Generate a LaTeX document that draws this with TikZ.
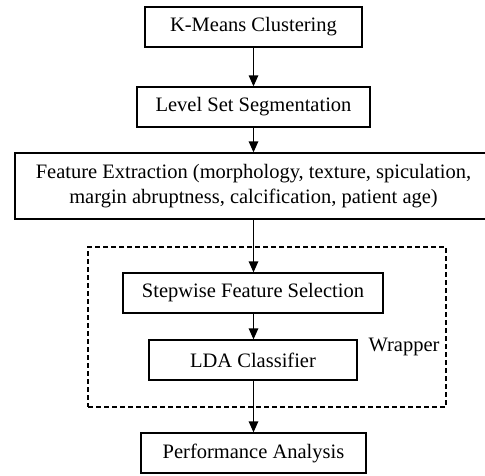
\documentclass[tikz,border=0pt]{standalone}
\usepackage{fontspec}
\setmainfont{Liberation Serif}
\usetikzlibrary{arrows.meta}

\begin{document}
\begin{tikzpicture}[x=1pt,y=1pt,font=\fontsize{20.5}{24.5}\selectfont,
        stage/.style={draw, line width=1.3pt, inner sep=0pt, align=center},
        arr/.style={-{Triangle[length=11pt,width=9.5pt]}, line width=1.3pt}]
        \useasboundingbox (0,0) rectangle (485,-475);
        \coordinate (axis) at (253.5,0);

        \node[stage, minimum width=217, minimum height=40](kmeans) at (253.5,-27){K-Means Clustering};
        \node[stage, minimum width=233, minimum height=40](levelset) at (253.5,-107){Level Set Segmentation};
        \node[stage, minimum width=477, minimum height=66](features) at (253.5,-186){Feature Extraction (morphology, texture, spiculation,\\margin abruptness, calcification, patient age)};

        \node[draw, dash pattern=on 5pt off 3pt, line width=1.2pt, minimum width=358, minimum height=160, inner sep=0pt](wrap) at (267,-327){};
        \node(wraplabel) at (404,-347){Wrapper};

        \node[stage, minimum width=260, minimum height=40](stepwise) at (253,-293){Stepwise Feature Selection};
        \node[stage, minimum width=208, minimum height=40](lda) at (253,-360){LDA Classifier};
        \node[stage, minimum width=225, minimum height=40](perf) at (253.5,-453){Performance Analysis};

        \draw[arr](kmeans.south -| axis)--(levelset.north -| axis);
        \draw[arr](levelset.south -| axis)--(features.north -| axis);
        \draw[arr](features.south -| axis)--(stepwise.north -| axis);
        \draw[arr](stepwise.south -| axis)--(lda.north -| axis);
        \draw[arr](lda.south -| axis)--(perf.north -| axis);
    \end{tikzpicture}
\end{document}
